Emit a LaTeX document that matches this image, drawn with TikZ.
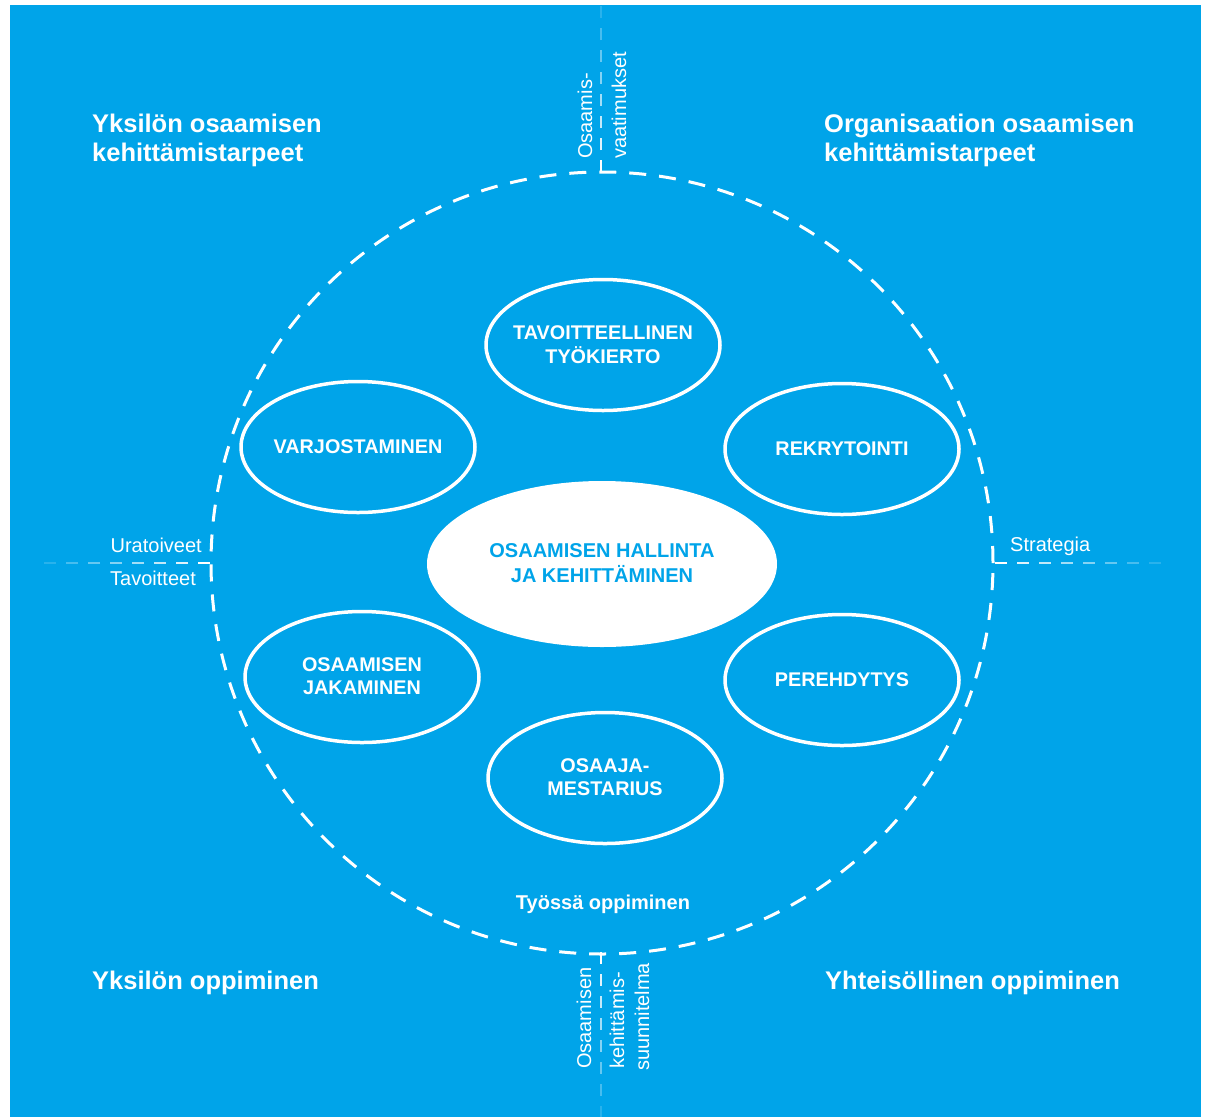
\documentclass[tikz,border=0pt]{standalone}
\usepackage{fontspec}
\setmainfont{Liberation Sans}
\usetikzlibrary{shapes.geometric}
\definecolor{bg}{RGB}{0,164,233}
\newcommand\zwlines[1]{\makebox[0pt][c]{\raisebox{-13pt}{\smash{\begin{tabular}{@{}c@{}}#1\end{tabular}}}}}
\begin{document}
\begin{tikzpicture}[x=1pt,y=-1pt,
  oval/.style={ellipse,draw=white,line width=3.5pt,text=white,inner sep=0pt,
    minimum width=234pt,minimum height=131pt,
    font=\fontsize{19.8}{23.5}\selectfont\bfseries},
  title/.style={text=white,anchor=west,align=left,inner sep=0pt,
    font=\fontsize{25.5}{29}\selectfont\bfseries},
  small/.style={text=white,inner sep=0pt,font=\fontsize{20}{22}\selectfont},
  vtext/.style={small,rotate=90,anchor=west},
  axis/.style={white,line width=2pt}]
\useasboundingbox (0,0) rectangle (1207,1117);
\fill[white] (0,0) rectangle (1207,1117);
\fill[bg] (10,5) rectangle (1201,1117);
% axis lines, fading away from the circle
\foreach \i in {0,...,7}{
  \pgfmathsetmacro{\op}{1-\i*0.12}
  \draw[axis,opacity=\op] (601,{172-\i*22}) -- (601,{172-\i*22-12});
  \draw[axis,opacity=\op] (601,{952+\i*22}) -- (601,{952+\i*22+12});
  \draw[axis,opacity=\op] ({210-\i*22},563) -- ({210-\i*22-12},563);
  \draw[axis,opacity=\op] ({995+\i*22},563) -- ({995+\i*22+12},563);
}
% dashed circle
\node[circle,draw=white,line width=3pt,dash pattern=on 17pt off 13pt,
  minimum size=782pt,inner sep=0pt] (ring) at (602,563) {};
% center ellipse
\node[ellipse,fill=white,inner sep=0pt,minimum width=350pt,minimum height=166pt,
  text=bg,font=\fontsize{20}{25}\selectfont\bfseries]
  (core) at (602,564) {\zwlines{OSAAMISEN HALLINTA\\JA KEHITTÄMINEN}};
% surrounding ellipses
\node[oval] (tav) at (603,345) {\zwlines{TAVOITTEELLINEN\\TYÖKIERTO}};
\node[oval] (var) at (358,447) {\zwlines{VARJOSTAMINEN}};
\node[oval] (rek) at (842,449) {\zwlines{REKRYTOINTI}};
\node[oval] (jak) at (362,677) {\zwlines{OSAAMISEN\\JAKAMINEN}};
\node[oval] (per) at (842,680) {\zwlines{PEREHDYTYS}};
\node[oval] (mes) at (605,778) {\zwlines{OSAAJA-\\MESTARIUS}};
% corner titles
\node[title] (t1) at (92,140) {Yksilön osaamisen\\kehittämistarpeet};
\node[title] (t2) at (824,140) {Organisaation osaamisen\\kehittämistarpeet};
\node[title] (t3) at (92,983) {Yksilön oppiminen};
\node[title] (t4) at (825,983) {Yhteisöllinen oppiminen};
% small labels
\node[small,font=\fontsize{20}{22}\selectfont\bfseries] (tyo) at (603,904) {Työssä oppiminen};
\node[small,anchor=east] (ura) at (202,545) {Uratoiveet};
\node[small,anchor=east] (tavt) at (196,578) {Tavoitteet};
\node[small,anchor=west] (str) at (1010,546) {Strategia};
\node[vtext] (v1) at (585,159) {Osaamis-};
\node[vtext] (v2) at (619,159) {vaatimukset};
\node[vtext] (v3) at (584,1069) {Osaamisen};
\node[vtext] (v4) at (617,1069) {kehittämis-};
\node[vtext] (v5) at (642,1071) {suunnitelma};
\end{tikzpicture}
\end{document}
